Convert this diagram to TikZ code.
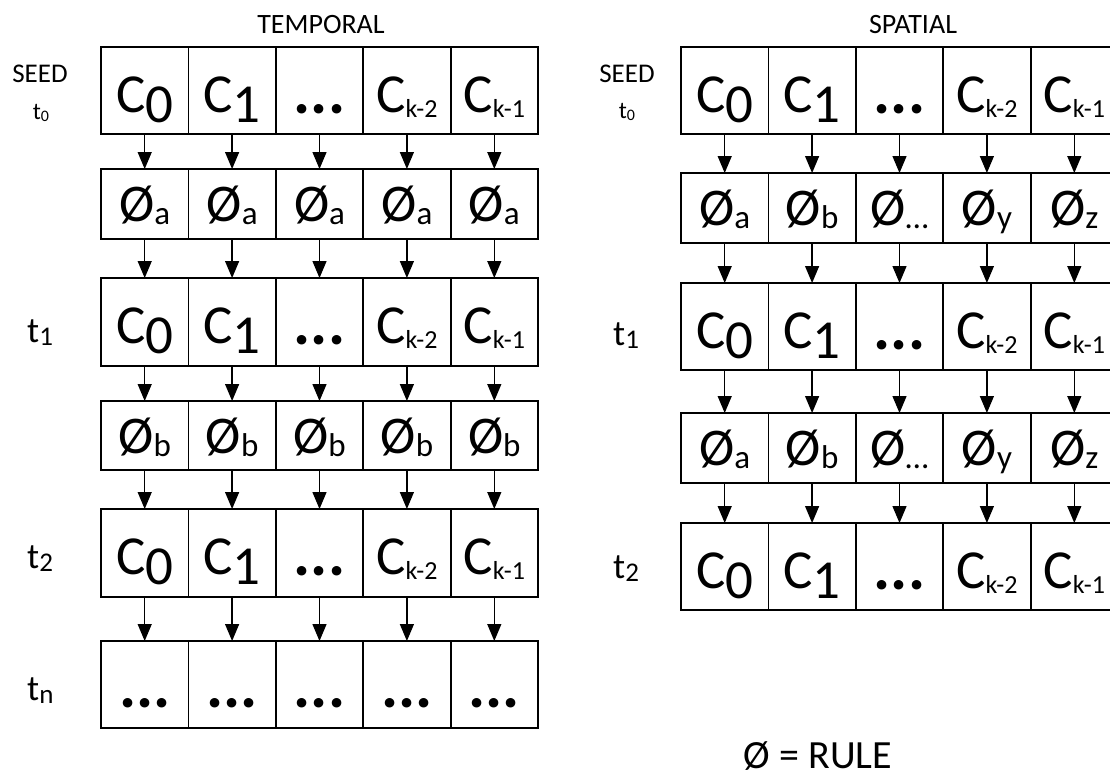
\documentclass[tikz,border=0pt]{standalone}
\usepackage{fontspec}
\setmainfont{Carlito}
\usetikzlibrary{arrows.meta}
\newcommand\fs[1]{\fontsize{#1}{#1}\selectfont}
\newcommand\CC[1]{{\fs{55}C\raisebox{-10pt}{\fs{55}#1}}}
\newcommand\CK[1]{{\fs{55}C\raisebox{-5pt}{\fs{26}#1}}}
\newcommand\PH[1]{{\fs{53}Ø\raisebox{-3pt}{\fs{33}#1}}}
\newcommand\DD{{\fs{64}\bfseries ...}}
\newcommand\TT[1]{{\fs{36}t\raisebox{-3pt}{\fs{27}#1}}}
\begin{document}
\begin{tikzpicture}[x=1pt,y=-1pt,
  cell/.style={draw, line width=1.8pt, minimum width=87.4, inner sep=0pt, outer sep=0pt, anchor=north west},
  txt/.style={anchor=base, inner sep=0pt},
  lbl/.style={anchor=base west, inner sep=0pt},
  flow/.style={line width=1.3pt, -{Triangle[length=17pt,width=14pt]}}]
\fill[white] (0,0) rectangle (1110,780);
\useasboundingbox (0,0) rectangle (1110,780);
\clip (0,0) rectangle (1110,780);
% ---------------- left grid (temporal)
\foreach \r/\top/\h in {0/47/87, 1/169/70, 2/278/88, 3/401/69, 4/509/88, 5/641/87}
  \foreach \c in {0,...,4}
    \node[cell, minimum height=\h] (L\r-\c) at ({101+87.4*\c}, \top) {};
% texts of left grid
\foreach \r in {0,2,4} {
  \foreach \c/\t in {0/\CC{0}, 1/\CC{1}, 3/\CK{k-2}, 4/\CK{k-1}}
    \node[txt] (L\r-\c t) at ([yshift=-65pt]L\r-\c.north) {\t};
  \node[txt] (L\r-2t) at ([yshift=-66pt]L\r-2.north) {\DD};
}
\foreach \c in {0,...,4} {
  \node[txt] (L1-\c t) at ([yshift=-52pt]L1-\c.north) {\PH{a}};
  \node[txt] (L3-\c t) at ([yshift=-52pt]L3-\c.north) {\PH{b}};
  \node[txt] (L5-\c t) at ([yshift=-66pt]L5-\c.north) {\DD};
}
% arrows of left grid
\foreach \r in {0,...,4} {
  \pgfmathtruncatemacro\n{\r+1}
  \foreach \c in {0,...,4}
    \draw[flow] (L\r-\c.south) -- (L\n-\c.north);
}
% ---------------- right grid (spatial)
\foreach \r/\top/\h in {0/47/87, 1/173/70, 2/283/87, 3/413/70, 4/523/87}
  \foreach \c in {0,...,4}
    \node[cell, minimum height=\h] (R\r-\c) at ({681+87.4*\c}, \top) {};
\foreach \r in {0,2,4} {
  \foreach \c/\t in {0/\CC{0}, 1/\CC{1}, 3/\CK{k-2}, 4/\CK{k-1}}
    \node[txt] (R\r-\c t) at ([yshift=-65pt]R\r-\c.north) {\t};
  \node[txt] (R\r-2t) at ([yshift=-66pt]R\r-2.north) {\DD};
}
\foreach \r in {1,3} {
  \foreach \c/\t in {0/\PH{a}, 1/\PH{b}, 2/\PH{…}, 3/\PH{y}, 4/\PH{z}}
    \node[txt] (R\r-\c t) at ([yshift=-52pt]R\r-\c.north) {\t};
}
\foreach \r in {0,...,3} {
  \pgfmathtruncatemacro\n{\r+1}
  \foreach \c in {0,...,4}
    \draw[flow] (R\r-\c.south) -- (R\n-\c.north);
}
% ---------------- labels
\node[txt, font=\fs{28}] (temporal) at (321,33) {TEMPORAL};
\node[txt, font=\fs{28}] (spatial) at (913,33) {SPATIAL};
\node[txt, font=\fs{27}] (seedL) at (40,82) {SEED};
\node[txt] (t0L) at (41,119) {\fs{24}t\raisebox{-2pt}{\fs{16}0}};
\node[txt, font=\fs{27}] (seedR) at (627,82) {SEED};
\node[txt] (t0R) at (627,118) {\fs{24}t\raisebox{-2pt}{\fs{16}0}};
\node[lbl] (t1L) at (27,342) {\TT{1}};
\node[lbl] (t2L) at (27,568) {\TT{2}};
\node[lbl] (tnL) at (27,700) {\TT{n}};
\node[lbl] (t1R) at (613,345) {\TT{1}};
\node[lbl] (t2R) at (613,578) {\TT{2}};
\node[txt, font=\fs{40}] (legend) at (818,768) {Ø = RULE};
\end{tikzpicture}
\end{document}
